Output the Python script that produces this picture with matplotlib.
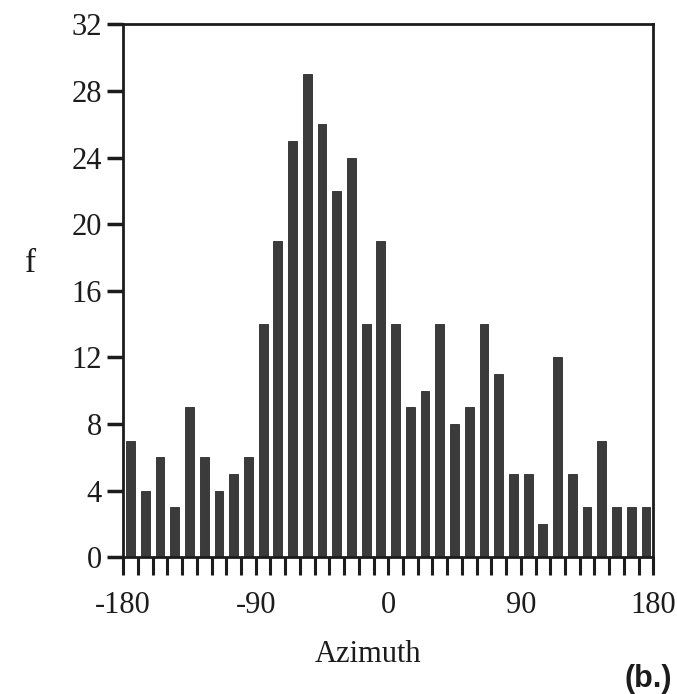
import numpy as np
import matplotlib.pyplot as plt

# azimuth bins of 10 degrees, counts
bin_edges = np.arange(-180, 181, 10)
counts = [7, 4, 6, 3, 9, 6, 4, 5, 6, 14, 19, 25, 29, 26, 22, 24,
          14, 19, 14, 9, 10, 14, 8, 9, 14, 11, 5, 5, 2, 12, 5, 3, 7, 3, 3, 3]
y_ticks = list(range(0, 33, 4))
x_ticks = [-180, -90, 0, 90, 180]

plt.rcParams['font.family'] = ['Liberation Serif', 'DejaVu Serif']
plt.rcParams['axes.unicode_minus'] = False

fig = plt.figure(figsize=(6.77, 6.94), dpi=100)
ax = fig.add_axes([0.182, 0.197, 0.783, 0.768])

centers = bin_edges[:-1] + 5
ax.bar(centers, counts, width=6, color='#3b3b3b', edgecolor='#2a2a2a', linewidth=0.6)

ax.set_xlim(-180, 180)
ax.set_ylim(0, 32)
ax.set_yticks(y_ticks)
ax.set_xticks(x_ticks)
ax.set_xticks(bin_edges, minor=True)

for side in ['left', 'right', 'top', 'bottom']:
    ax.spines[side].set_linewidth(2)
    ax.spines[side].set_color('#1c1c1c')

ax.tick_params(axis='y', direction='out', length=11.5, width=2.5, labelsize=22, pad=4, colors='#1c1c1c')
ax.tick_params(axis='x', which='both', direction='out', length=13, width=2.2, labelsize=22, pad=11, colors='#1c1c1c')

ax.set_xlabel('Azimuth', fontsize=22, color='#1c1c1c')
ax.xaxis.set_label_coords(0.462, -0.155)
fig.text(0.045, 0.62, 'f', fontsize=24, ha='center', va='center', color='#1c1c1c')
fig.text(0.993, 0.0, '(b.)', fontsize=22, fontweight='bold', ha='right', va='bottom',
         family=['Liberation Sans', 'DejaVu Sans'], color='#1c1c1c')

fig.savefig('out.png', dpi=100)
